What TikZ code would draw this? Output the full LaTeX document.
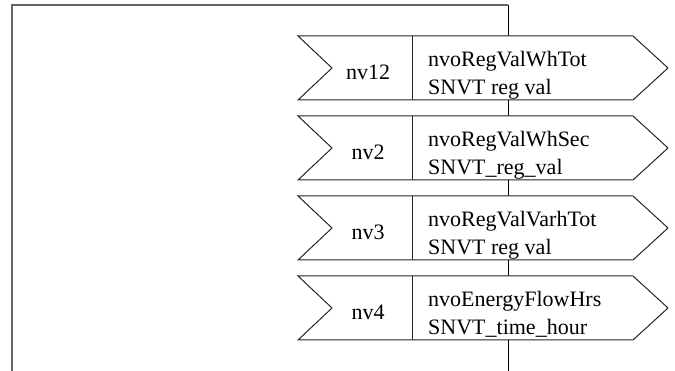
\documentclass[tikz,border=0pt]{standalone}
\usepackage{fontspec}
\setmainfont{Liberation Serif}
\usetikzlibrary{positioning}
\tikzset{
    frame/.style = {draw=black!60, line width=1.5pt},
    bus/.style = {draw=black, line width=1pt},
    nvbox/.style = {draw=black!85, fill=white, line width=1pt},
    nvtext/.style = {inner sep=0pt, font=\fontsize{22}{26}\selectfont},
    nvidx/.style = {nvtext, anchor=base},
    nvline/.style = {nvtext, anchor=base west}
}

\begin{document}
\begin{tikzpicture}[x=1pt,y=-1pt]
\useasboundingbox (0,0) rectangle (675,371);
\coordinate (corner) at (12,5);
\coordinate (left) at (12,371);
\coordinate (bustop) at (508,5);
\coordinate (busbot) at (508,371);
%
\draw[frame] (left) -- (corner) -- (bustop);
\draw[bus] (bustop) -- (busbot);
%
\foreach \idx/\top/\nm/\tp in {12/36/nvoRegValWhTot/SNVT reg val,
                               2/116/nvoRegValWhSec/SNVT\_reg\_val,
                               3/196/nvoRegValVarhTot/SNVT reg val,
                               4/276/nvoEnergyFlowHrs/SNVT\_time\_hour}{
  \draw[nvbox] (298,\top) -- (633,\top) -- (668,\top+32) -- (633,\top+64)
               -- (298,\top+64) -- (332,\top+32) -- cycle;
  \draw[nvbox] (412,\top) -- (412,\top+64);
  \node[nvidx] at (368,\top+44) (idx\idx) {nv\idx};
  \node[nvline] at (428,\top+31) (name\idx) {\nm};
  \node[nvline] at (428,\top+59) (type\idx) {\tp};
}
\end{tikzpicture}
\end{document}
